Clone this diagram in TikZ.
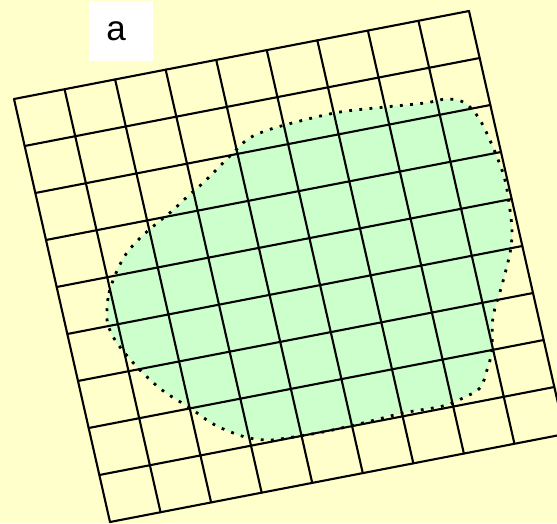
\documentclass[tikz,border=0pt]{standalone}
\usepackage{fontspec}
\setmainfont{Liberation Sans}
\usetikzlibrary{calc}
\definecolor{bgyellow}{HTML}{FFFFCC}
\definecolor{blobgreen}{HTML}{CCFFCC}
\tikzset{
  gridline/.style={black, line width=2.1pt},
  blobfill/.style={fill=blobgreen, draw=none},
  bloboutline/.style={black, line width=2.8pt, dash pattern=on 2.8pt off 7.4pt},
  labelbox/.style={fill=white, draw=none, inner sep=0pt, minimum width=64pt, minimum height=60pt, font=\fontsize{35}{40}\selectfont}
}
\begin{document}
\begin{tikzpicture}[x=1pt, y=-1pt]
\fill[bgyellow] (0,0) rectangle (557,523);
\useasboundingbox (0,0) rectangle (557,523);
\clip (0,0) rectangle (557,523);
% blob
\def\blobpath{plot[smooth cycle, tension=0.55] coordinates {
 (107,310) (109,293) (116,273) (126,254) (140,238) (156,224) (172,211) (188,196)
 (203,183) (218,168) (233,153) (248,139) (268,130) (300,121) (340,112) (385,107)
 (425,103) (447,99) (465,103) (480,120) (495,152) (505,180) (510,210) (512,232)
 (510,253) (502,285) (493,317) (492,350) (487,370) (480,388) (463,398) (443,406)
 (403,413) (363,423) (323,432) (287,438) (268,440) (245,437) (215,425) (190,408)
 (162,390) (138,368) (117,343) (108,325)}}
\path[blobfill] \blobpath;
% grid corners
\coordinate (O) at (14,99);
\coordinate (U) at (469,11);
\coordinate (L) at (110,522);
\coordinate (R) at (565,434);
\foreach \i in {0,...,9}{
  \draw[gridline, line cap=round] ($(O)!\i/9!(U)$) -- ($(L)!\i/9!(R)$);
  \draw[gridline, line cap=round] ($(O)!\i/9!(L)$) -- ($(U)!\i/9!(R)$);
}
\draw[bloboutline] \blobpath;
% label
\node[labelbox] (lbl) at (121,31) {\kern-10pt a};
\end{tikzpicture}
\end{document}
